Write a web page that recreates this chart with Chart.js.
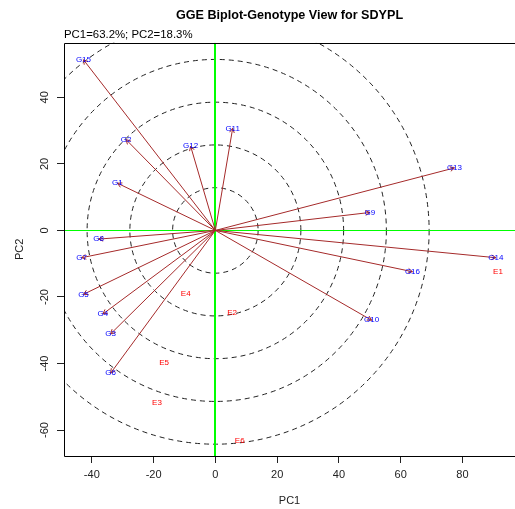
<!DOCTYPE html>
<html>
<head>
<meta charset="utf-8">
<script src="https://cdn.jsdelivr.net/npm/chart.js@4"></script>
<style>
  body { margin: 0; background: #fff; }
  #wrap { width: 515px; height: 509px; }
</style>
</head>
<body>
<div id="wrap"><canvas id="biplot"></canvas></div>
<script>
// genotype scores (PC1, PC2)
const genotypes = ["G1", "G2", "G3", "G4", "G5", "G6", "G7", "G8", "G9", "G10", "G11", "G12", "G13", "G14", "G15", "G16"];
const genoPC1 = [-31.7, -28.9, -33.9, -36.4, -42.7, -33.9, -43.3, -37.8, 50.0, 50.6, 5.6, -8.0, 77.4, 90.8, -42.7, 63.8];
const genoPC2 = [14.2, 27.3, -31.1, -25.1, -19.2, -42.9, -8.2, -2.6, 5.4, -27.0, 30.7, 25.3, 18.8, -8.2, 51.3, -12.4];

// environment scores
const envs = ["E1", "E2", "E3", "E4", "E5", "E6"];
const envPC1 = [91.5, 5.4, -18.9, -9.6, -16.6, 7.9];
const envPC2 = [-12.5, -24.8, -51.9, -19.1, -39.7, -63.2];

const xTicks = [-40, -20, 0, 20, 40, 60, 80];
const yTicks = [-60, -40, -20, 0, 20, 40];
const circleRadii = [13.84, 27.68, 41.52, 55.36, 69.2];

const FONT = "'Liberation Sans', Arial, sans-serif";

const biplotDecor = {
  id: "biplotDecor",
  beforeDatasetsDraw(chart) {
    const { ctx, chartArea: a, scales: { x, y } } = chart;
    const cx = x.getPixelForValue(0);
    const cy = y.getPixelForValue(0);
    ctx.save();
    ctx.beginPath();
    ctx.rect(a.left, a.top, a.right - a.left, a.bottom - a.top);
    ctx.clip();
    // concentric circles (radius in PC1 units)
    ctx.strokeStyle = "#222";
    ctx.lineWidth = 1;
    ctx.setLineDash([5, 4]);
    circleRadii.forEach((r) => {
      const rp = x.getPixelForValue(r) - cx;
      ctx.beginPath();
      ctx.arc(cx, cy, rp, 0, Math.PI * 2);
      ctx.stroke();
    });
    ctx.setLineDash([]);
    // axes through origin
    ctx.strokeStyle = "#00ff00";
    ctx.lineWidth = 2;
    ctx.beginPath();
    ctx.moveTo(Math.round(cx), a.top);
    ctx.lineTo(Math.round(cx), a.bottom);
    ctx.stroke();
    ctx.lineWidth = 1;
    ctx.beginPath();
    ctx.moveTo(a.left, Math.round(cy) + 0.5);
    ctx.lineTo(a.right, Math.round(cy) + 0.5);
    ctx.stroke();
    ctx.restore();
  },
  afterDatasetsDraw(chart) {
    const { ctx, chartArea: a, scales: { x, y } } = chart;
    const cx = x.getPixelForValue(0);
    const cy = y.getPixelForValue(0);
    ctx.save();
    // arrow heads
    ctx.strokeStyle = "brown";
    ctx.lineWidth = 1;
    genotypes.forEach((g, i) => {
      const px = x.getPixelForValue(genoPC1[i]);
      const py = y.getPixelForValue(genoPC2[i]);
      const ang = Math.atan2(py - cy, px - cx);
      const len = 5;
      ctx.beginPath();
      ctx.moveTo(px - len * Math.cos(ang - 0.5), py - len * Math.sin(ang - 0.5));
      ctx.lineTo(px, py);
      ctx.lineTo(px - len * Math.cos(ang + 0.5), py - len * Math.sin(ang + 0.5));
      ctx.stroke();
    });
    // labels
    ctx.font = "8px " + FONT;
    ctx.textAlign = "center";
    ctx.textBaseline = "middle";
    ctx.fillStyle = "blue";
    genotypes.forEach((g, i) => {
      ctx.fillText(g, x.getPixelForValue(genoPC1[i]), y.getPixelForValue(genoPC2[i]));
    });
    ctx.fillStyle = "red";
    envs.forEach((e, i) => {
      ctx.fillText(e, x.getPixelForValue(envPC1[i]), y.getPixelForValue(envPC2[i]));
    });
    // plot box
    ctx.strokeStyle = "#000";
    ctx.beginPath();
    ctx.moveTo(a.right + 2, Math.round(a.top) + 0.5);
    ctx.lineTo(Math.round(a.left) + 0.5, Math.round(a.top) + 0.5);
    ctx.lineTo(Math.round(a.left) + 0.5, Math.round(a.bottom) + 0.5);
    ctx.lineTo(a.right + 2, Math.round(a.bottom) + 0.5);
    ctx.stroke();
    ctx.restore();
  },
};

const vectorSets = genotypes.map((g, i) => ({
  label: g,
  data: [{ x: 0, y: 0 }, { x: genoPC1[i], y: genoPC2[i] }],
  showLine: true,
  borderColor: "brown",
  borderWidth: 1,
  pointRadius: 0,
}));

const envSet = {
  label: "Environments",
  data: envs.map((e, i) => ({ x: envPC1[i], y: envPC2[i] })),
  pointRadius: 0,
  showLine: false,
};

new Chart(document.getElementById("biplot"), {
  type: "scatter",
  data: { datasets: [...vectorSets, envSet] },
  options: {
    responsive: true,
    maintainAspectRatio: false,
    animation: false,
    layout: { padding: 0 },
    plugins: {
      legend: { display: false },
      tooltip: { enabled: false },
      title: {
        display: true,
        text: "GGE Biplot-Genotype View for SDYPL",
        fullSize: false,
        color: "#000",
        font: { family: FONT, size: 12.6, weight: "bold" },
        padding: { top: 8, bottom: 2 },
      },
      subtitle: {
        display: true,
        text: "PC1=63.2%; PC2=18.3%",
        align: "start",
        fullSize: false,
        color: "#000",
        font: { family: FONT, size: 11.4 },
        padding: { top: 3, bottom: 1 },
      },
    },
    scales: {
      x: {
        type: "linear",
        min: -49,
        max: 97,
        afterBuildTicks: (s) => { s.ticks = xTicks.map((v) => ({ value: v })); },
        afterFit: (s) => { s.height = 53; },
        border: { display: false },
        grid: { drawOnChartArea: false, tickLength: 7, tickColor: "#222" },
        ticks: { autoSkip: false, maxRotation: 0, color: "#222", padding: 5, font: { family: FONT, size: 11 } },
        title: { display: true, text: "PC1", color: "#222", font: { family: FONT, size: 11 }, padding: { top: 0, bottom: 1 } },
      },
      y: {
        type: "linear",
        min: -67.8,
        max: 56.4,
        afterBuildTicks: (s) => { s.ticks = yTicks.map((v) => ({ value: v })); },
        afterFit: (s) => { s.width = 64; },
        border: { display: false },
        grid: { drawOnChartArea: false, tickLength: 7, tickColor: "#222" },
        ticks: { autoSkip: false, minRotation: 90, maxRotation: 90, crossAlign: "center", color: "#222", padding: 4, font: { family: FONT, size: 11 } },
        title: { display: true, text: "PC2", color: "#222", font: { family: FONT, size: 11 }, padding: { top: 13.4, bottom: 0 } },
      },
    },
  },
  plugins: [biplotDecor],
});
</script>
</body>
</html>
